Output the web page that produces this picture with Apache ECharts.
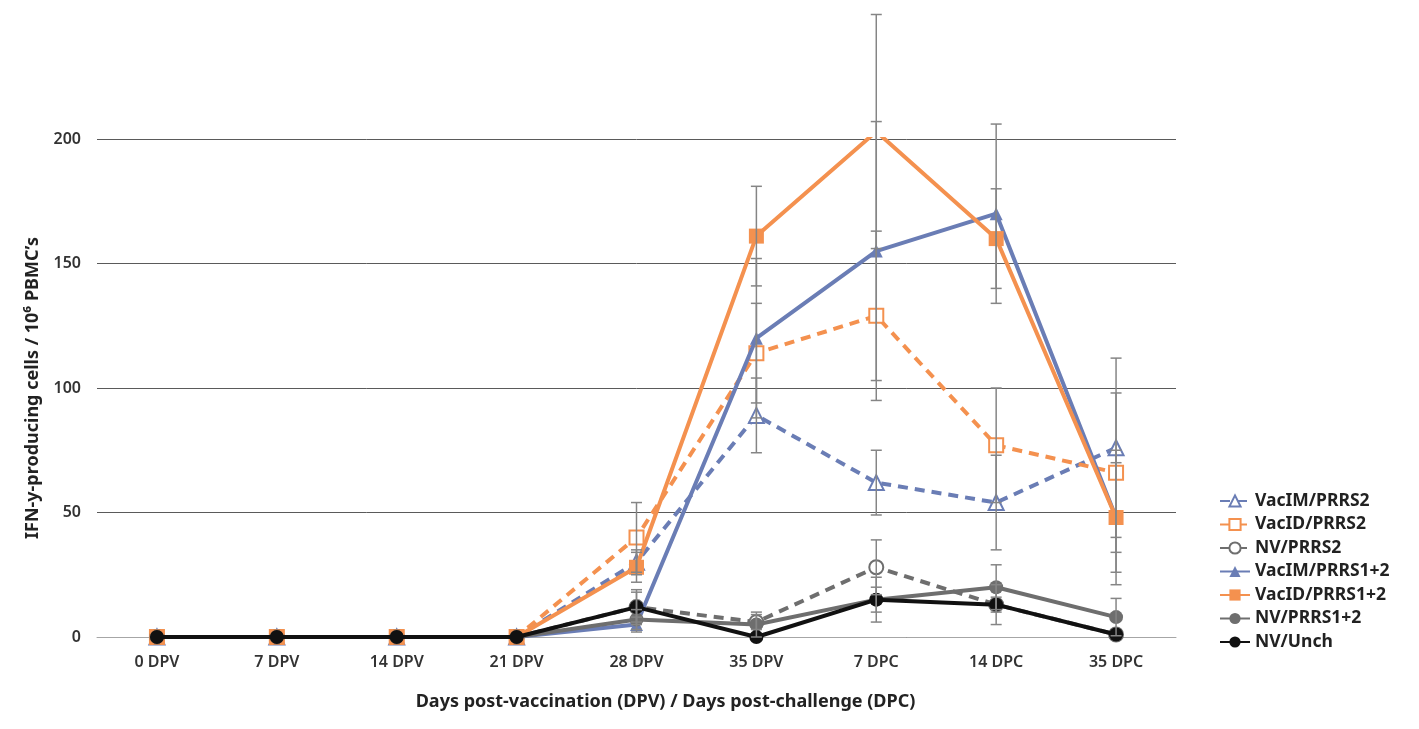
<!DOCTYPE html>
<html>
<head>
<meta charset="utf-8">
<script src="https://cdn.jsdelivr.net/npm/echarts@6/dist/echarts.min.js"></script>
<style>
  html, body { margin: 0; background: #fff; }
  #chart { width: 1419px; height: 729px; }
</style>
</head>
<body>
<div id="chart"></div>
<script>
// x categories
const days = ['0 DPV', '7 DPV', '14 DPV', '21 DPV', '28 DPV', '35 DPV', '7 DPC', '14 DPC', '35 DPC']

// group means and error (+/-)
const vacImPrrs2 = [0, 0, 0, 0, 30, 89, 62, 54, 76]
const vacImPrrs2Err = [0, 0, 0, 0, 5, 15, 13, 19, 36]
const vacIdPrrs2 = [0, 0, 0, 0, 40, 114, 129, 77, 66]
const vacIdPrrs2Err = [0, 0, 0, 0, 14, 20, 34, 23, 32]
const nvPrrs2 = [0, 0, 0, 0, 12, 6, 28, 13, 1]
const nvPrrs2Err = [0, 0, 0, 0, 6, 3, 11, 3, 0]
const vacImPrrs12 = [0, 0, 0, 0, 5, 120, 155, 170, 48]
const vacImPrrs12Err = [0, 0, 0, 0, 3, 32, 52, 36, 27]
const vacIdPrrs12 = [0, 0, 0, 0, 28, 161, 203, 160, 48]
const vacIdPrrs12Err = [0, 0, 0, 0, 6, 20, 47, 20, 22]
const nvPrrs12 = [0, 0, 0, 0, 7, 5, 15, 20, 8]
const nvPrrs12Err = [0, 0, 0, 0, 4, 5, 5, 9, 7.5]
const nvUnch = [0, 0, 0, 0, 12, 0, 15, 13, 1]
const nvUnchErr = [0, 0, 0, 0, 7, 0, 9, 8, 0]

const BLUE = '#6a7db5'
const ORANGE = '#f4914f'
const GRAY = '#6e6e6e'
const BLACK = '#111111'
const FONT = 'Noto Sans'

const groups = [
  { name: 'VacIM/PRRS2', vals: vacImPrrs2, err: vacImPrrs2Err, color: BLUE, dashed: true, symbol: 'emptyTriangle', size: 15 },
  { name: 'VacID/PRRS2', vals: vacIdPrrs2, err: vacIdPrrs2Err, color: ORANGE, dashed: true, symbol: 'emptyRect', size: 14 },
  { name: 'NV/PRRS2', vals: nvPrrs2, err: nvPrrs2Err, color: GRAY, dashed: true, symbol: 'emptyCircle', size: 14 },
  { name: 'VacIM/PRRS1+2', vals: vacImPrrs12, err: vacImPrrs12Err, color: BLUE, dashed: false, symbol: 'triangle', size: 13 },
  { name: 'VacID/PRRS1+2', vals: vacIdPrrs12, err: vacIdPrrs12Err, color: ORANGE, dashed: false, symbol: 'rect', size: 15 },
  { name: 'NV/PRRS1+2', vals: nvPrrs12, err: nvPrrs12Err, color: GRAY, dashed: false, symbol: 'circle', size: 14 },
  { name: 'NV/Unch', vals: nvUnch, err: nvUnchErr, color: BLACK, dashed: false, symbol: 'circle', size: 14 },
]

// [xIndex, low, high] for every point that has an error bar
const errData = []
groups.forEach((g) => {
  g.vals.forEach((v, i) => {
    if (g.err[i] > 0) errData.push([i, v - g.err[i], v + g.err[i]])
  })
})

function renderErr(params, api) {
  const x = api.value(0)
  const top = api.coord([x, api.value(2)])
  const bot = api.coord([x, api.value(1)])
  const w = 5.5
  const style = { stroke: '#858585', lineWidth: 1.5 }
  return {
    type: 'group',
    children: [
      { type: 'line', shape: { x1: top[0], y1: top[1], x2: bot[0], y2: bot[1] }, style },
      { type: 'line', shape: { x1: top[0] - w, y1: top[1], x2: top[0] + w, y2: top[1] }, style },
      { type: 'line', shape: { x1: bot[0] - w, y1: bot[1], x2: bot[0] + w, y2: bot[1] }, style },
    ],
  }
}

const chart = echarts.init(document.getElementById('chart'), null, { renderer: 'canvas' })

chart.setOption({
  animation: false,
  textStyle: { fontFamily: FONT },
  grid: { left: 97, right: 243, top: 139, bottom: 92 },
  legend: {
    data: groups.map((g) => g.name),
    orient: 'vertical',
    left: 1214,
    top: 487,
    itemWidth: 30,
    itemHeight: 14,
    itemGap: 5.5,
    textStyle: { fontFamily: FONT, fontSize: 17.5, fontWeight: 'bold', color: '#222' },
  },
  xAxis: {
    type: 'category',
    data: days,
    boundaryGap: true,
    axisTick: { show: false },
    axisLine: { lineStyle: { color: '#a6a6a6', width: 1 } },
    axisLabel: { color: '#333', fontSize: 16, fontWeight: 600, margin: 17 },
    name: 'Days post-vaccination (DPV) / Days post-challenge (DPC)',
    nameLocation: 'middle',
    nameGap: 56,
    nameTextStyle: { color: '#222', fontSize: 18, fontWeight: 'bold', padding: [0, 0, 0, 58] },
  },
  yAxis: {
    type: 'value',
    min: 0,
    max: 200,
    interval: 50,
    axisLine: { show: false },
    axisTick: { show: false },
    axisLabel: { color: '#333', fontSize: 16, fontWeight: 600, margin: 16 },
    splitLine: { lineStyle: { color: '#5a5a5a', width: 1 } },
    name: 'IFN-y-producing cells / 10\u2076 PBMC\u2019s',
    nameLocation: 'middle',
    nameGap: 55,
    nameTextStyle: { color: '#222', fontSize: 18, fontWeight: 'bold' },
  },
  series: [
    ...groups.map((g, k) => ({
      name: g.name,
      type: 'line',
      data: g.vals,
      z: 2 + k * 0.01,
      symbol: g.symbol,
      symbolSize: g.size,
      showAllSymbol: true,
      lineStyle: { color: g.color, width: 4, type: g.dashed ? [10, 7] : 'solid' },
      itemStyle: { color: g.color, borderColor: g.color, borderWidth: g.symbol.startsWith('empty') ? 2 : 0 },
      emphasis: { disabled: true },
    })),
    {
      name: 'errors',
      type: 'custom',
      data: errData,
      renderItem: renderErr,
      clip: false,
      z: 5,
      silent: true,
    },
  ],
})
</script>
</body>
</html>
